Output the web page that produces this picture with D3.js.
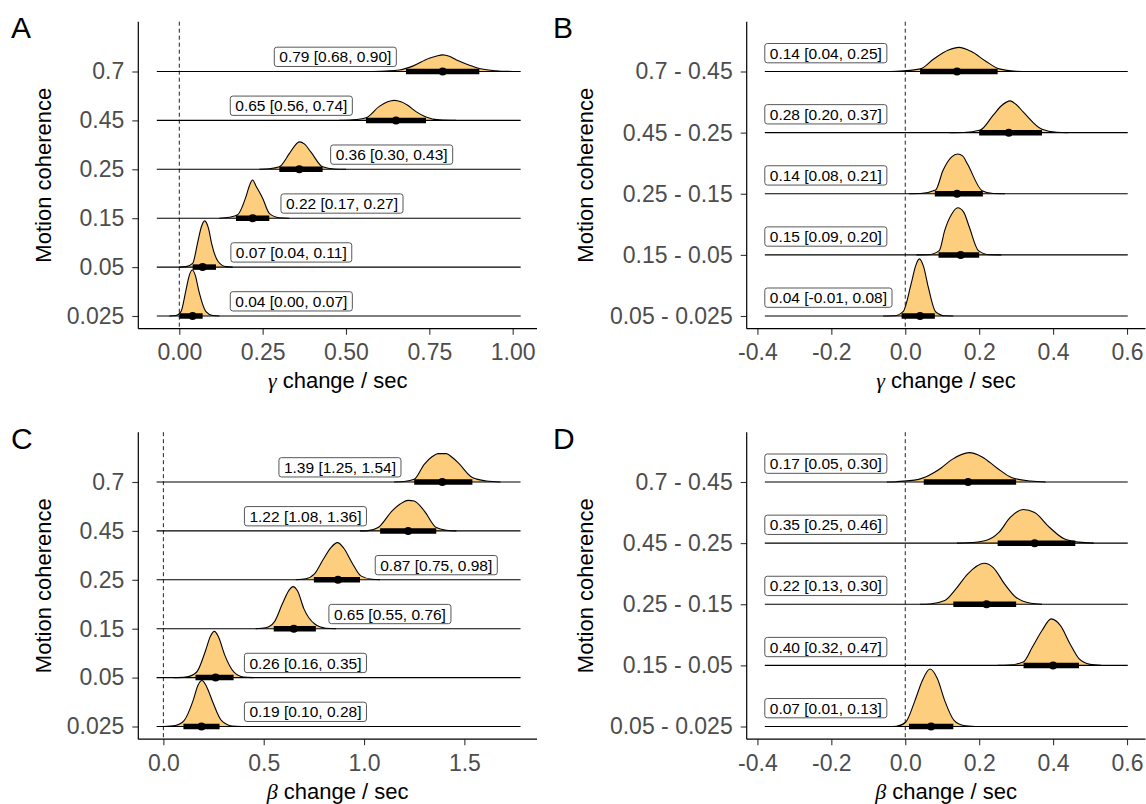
<!DOCTYPE html>
<html><head><meta charset="utf-8">
<script src="https://cdn.jsdelivr.net/npm/d3@7"></script>
<style>body{margin:0;background:#fff} text{font-family:"Liberation Sans",Arial,sans-serif}</style>
</head><body><svg id="c" width="1146" height="804"></svg>
<script>
// ---------- DATA ----------
const coherenceLevels = ["0.025","0.05","0.15","0.25","0.45","0.7"];
const coherenceDiffs  = ["0.05 - 0.025","0.15 - 0.05","0.25 - 0.15","0.45 - 0.25","0.7 - 0.45"];

const ticksA = [0, 0.25, 0.5, 0.75, 1.0];
const ticksB = [-0.4, -0.2, 0, 0.2, 0.4, 0.6];
const ticksC = [0, 0.5, 1.0, 1.5];
const ticksD = [-0.4, -0.2, 0, 0.2, 0.4, 0.6];

// Panel A: gamma change / sec by coherence
const gammaMean  = [0.04, 0.07, 0.22, 0.36, 0.65, 0.79];
const gammaLower = [0.00, 0.04, 0.17, 0.30, 0.56, 0.68];
const gammaUpper = [0.07, 0.11, 0.27, 0.43, 0.74, 0.90];
const gammaLabelX = [0.336, 0.336, 0.488, 0.637, 0.336, 0.468];
const gammaRange = [-0.0675, 1.024];
const gammaDensity = [
  [[-0.03,0],[-0.01,0.01],[0.005,0.09],[0.02,0.53],[0.03,0.83],[0.039,0.94],[0.048,0.83],[0.058,0.53],[0.08,0.09],[0.10,0.01],[0.12,0]],
  [[0.00,0],[0.02,0.01],[0.04,0.075],[0.055,0.50],[0.066,0.82],[0.076,0.945],[0.088,0.78],[0.097,0.48],[0.117,0.11],[0.14,0.01],[0.16,0]],
  [[0.12,0],[0.15,0.02],[0.175,0.07],[0.20,0.44],[0.21,0.66],[0.22,0.78],[0.23,0.66],[0.25,0.41],[0.27,0.10],[0.30,0.01],[0.33,0]],
  [[0.24,0],[0.27,0.01],[0.30,0.05],[0.33,0.32],[0.345,0.47],[0.36,0.56],[0.375,0.52],[0.395,0.35],[0.43,0.05],[0.465,0.005],[0.50,0]],
  [[0.48,0],[0.52,0.01],[0.56,0.054],[0.60,0.286],[0.625,0.38],[0.645,0.41],[0.665,0.38],[0.685,0.31],[0.71,0.18],[0.74,0.07],[0.78,0.01],[0.83,0]],
  [[0.58,0],[0.62,0.01],[0.66,0.03],[0.70,0.11],[0.75,0.27],[0.77,0.31],[0.79,0.34],[0.81,0.31],[0.83,0.24],[0.87,0.13],[0.90,0.06],[0.95,0.016],[1.0,0]]
];

// Panel B: gamma change differences
const gammaDiffMean  = [0.04, 0.15, 0.14, 0.28, 0.14];
const gammaDiffLower = [-0.01, 0.09, 0.08, 0.20, 0.04];
const gammaDiffUpper = [0.08, 0.20, 0.21, 0.37, 0.25];
const gammaDiffLabelX = [-0.38, -0.38, -0.38, -0.38, -0.38];
const gammaDiffRange = [-0.38, 0.602];
const gammaDiffDensity = [
  [[-0.06,0],[-0.029,0.003],[-0.006,0.07],[0.016,0.53],[0.028,0.82],[0.038,0.935],[0.05,0.80],[0.062,0.48],[0.082,0.07],[0.107,0.003],[0.13,0]],
  [[0.03,0],[0.062,0.003],[0.092,0.07],[0.107,0.405],[0.125,0.66],[0.142,0.77],[0.158,0.70],[0.173,0.46],[0.198,0.07],[0.228,0.003],[0.26,0]],
  [[0.01,0],[0.041,0.003],[0.082,0.06],[0.102,0.38],[0.125,0.60],[0.142,0.65],[0.155,0.62],[0.168,0.49],[0.208,0.05],[0.238,0.003],[0.27,0]],
  [[0.12,0],[0.158,0.003],[0.203,0.043],[0.238,0.286],[0.26,0.44],[0.284,0.52],[0.30,0.46],[0.319,0.34],[0.37,0.054],[0.41,0.005],[0.44,0]],
  [[-0.06,0],[-0.024,0.005],[0.041,0.043],[0.077,0.205],[0.117,0.35],[0.145,0.395],[0.178,0.33],[0.218,0.168],[0.254,0.043],[0.30,0.005],[0.34,0]]
];

// Panel C: beta change / sec by coherence
const betaMean  = [0.19, 0.26, 0.65, 0.87, 1.22, 1.39];
const betaLower = [0.10, 0.16, 0.55, 0.75, 1.08, 1.25];
const betaUpper = [0.28, 0.35, 0.76, 0.98, 1.36, 1.54];
const betaLabelX = [0.708, 0.708, 1.129, 1.36, 0.708, 0.88];
const betaRange = [-0.034, 1.78];
const betaDensity = [
  [[0.0,0],[0.059,0.02],[0.103,0.12],[0.148,0.53],[0.172,0.84],[0.192,0.94],[0.215,0.82],[0.246,0.50],[0.29,0.12],[0.343,0.01],[0.39,0]],
  [[0.05,0],[0.11,0.01],[0.165,0.11],[0.21,0.55],[0.235,0.85],[0.254,0.945],[0.275,0.83],[0.304,0.48],[0.352,0.11],[0.40,0.01],[0.45,0]],
  [[0.46,0],[0.51,0.02],[0.553,0.14],[0.593,0.51],[0.625,0.78],[0.646,0.86],[0.67,0.76],[0.70,0.41],[0.753,0.10],[0.81,0.01],[0.86,0]],
  [[0.66,0],[0.71,0.02],[0.753,0.12],[0.797,0.42],[0.835,0.66],[0.868,0.76],[0.90,0.64],[0.94,0.35],[0.984,0.08],[1.04,0.01],[1.08,0]],
  [[0.98,0],[1.02,0.005],[1.07,0.068],[1.14,0.41],[1.18,0.55],[1.22,0.625],[1.25,0.61],[1.30,0.41],[1.36,0.068],[1.41,0.014],[1.46,0]],
  [[1.15,0],[1.20,0.01],[1.25,0.054],[1.30,0.36],[1.34,0.52],[1.37,0.58],[1.41,0.58],[1.44,0.50],[1.47,0.39],[1.54,0.09],[1.61,0.02],[1.68,0]]
];

// Panel D: beta change differences
const betaDiffMean  = [0.07, 0.40, 0.22, 0.35, 0.17];
const betaDiffLower = [0.01, 0.32, 0.13, 0.25, 0.05];
const betaDiffUpper = [0.13, 0.47, 0.30, 0.46, 0.30];
const betaDiffLabelX = [-0.38, -0.38, -0.38, -0.38, -0.38];
const betaDiffRange = [-0.38, 0.602];
const betaDiffDensity = [
  [[-0.05,0],[-0.024,0.005],[0.001,0.07],[0.026,0.42],[0.046,0.75],[0.067,0.94],[0.087,0.78],[0.107,0.42],[0.132,0.10],[0.158,0.016],[0.19,0]],
  [[0.25,0],[0.279,0.005],[0.319,0.054],[0.344,0.30],[0.37,0.57],[0.395,0.76],[0.42,0.65],[0.446,0.35],[0.47,0.11],[0.50,0.016],[0.53,0]],
  [[0.04,0],[0.067,0.005],[0.107,0.06],[0.137,0.25],[0.168,0.49],[0.213,0.67],[0.238,0.60],[0.269,0.33],[0.30,0.11],[0.34,0.016],[0.37,0]],
  [[0.14,0],[0.168,0.005],[0.218,0.043],[0.254,0.18],[0.284,0.42],[0.319,0.55],[0.35,0.50],[0.39,0.26],[0.43,0.07],[0.47,0.016],[0.51,0]],
  [[-0.05,0],[-0.024,0.005],[0.036,0.043],[0.077,0.15],[0.097,0.23],[0.127,0.37],[0.173,0.48],[0.208,0.41],[0.248,0.23],[0.289,0.07],[0.34,0.016],[0.38,0]]
];

// ---------- LAYOUT / STYLE ----------
const svg = d3.select("#c");
const FILL = "#FECE7F";
const colX = [[138.3, 537], [746.7, 1145.5]];
const rowOff = [0, 410.5];
const PLOT_TOP = 21.7, PLOT_BOTTOM = 328.7, TOP_ROW = 71.5, BOTTOM_ROW = 316;
const LABEL_NUDGE = 0.3;

function fmt2(v){ return v.toFixed(2); }

function drawPanel(p) {
  const [left, right] = colX[p.col];
  const off = rowOff[p.row];
  const g = svg.append("g");
  const x = d3.scaleLinear().domain(p.xDomain).range([left, right]);
  const y = d3.scalePoint().domain(p.categories).range([BOTTOM_ROW + off, TOP_ROW + off]);
  const step = y.step();
  const top = PLOT_TOP + off, bottom = PLOT_BOTTOM + off;

  // reference line at 0
  g.append("line").attr("x1", x(0)).attr("x2", x(0)).attr("y1", top).attr("y2", bottom)
    .attr("stroke", "#222").attr("stroke-width", 1).attr("stroke-dasharray", "4,3");

  // ridges (top row first so lower rows are drawn in front)
  const order = d3.range(p.categories.length).reverse();
  order.forEach(i => {
    const base = y(p.categories[i]);
    const area = d3.area().curve(d3.curveMonotoneX)
      .x(d => x(d[0])).y0(base).y1(d => base - d[1] * step);
    const line = d3.line().curve(d3.curveMonotoneX)
      .x(d => x(d[0])).y(d => base - d[1] * step);
    g.append("path").attr("d", area(p.density[i])).attr("fill", FILL);
    g.append("line").attr("x1", x(p.range[0])).attr("x2", x(p.range[1]))
      .attr("y1", base).attr("y2", base).attr("stroke", "#000").attr("stroke-width", 1.1);
    g.append("path").attr("d", line(p.density[i])).attr("fill", "none")
      .attr("stroke", "#000").attr("stroke-width", 1.1);
  });

  // intervals and points
  p.categories.forEach((c, i) => {
    const base = y(c);
    g.append("line").attr("x1", x(p.lower[i])).attr("x2", x(p.upper[i]))
      .attr("y1", base).attr("y2", base).attr("stroke", "#000").attr("stroke-width", 5.5);
    g.append("circle").attr("cx", x(p.mean[i])).attr("cy", base).attr("r", 4).attr("fill", "#000");
  });

  // labels
  p.categories.forEach((c, i) => {
    const cy = y(c) - LABEL_NUDGE * step;
    const txt = `${fmt2(p.mean[i])} [${fmt2(p.lower[i])}, ${fmt2(p.upper[i])}]`;
    const lg = g.append("g");
    const rect = lg.append("rect");
    const t = lg.append("text").text(txt).attr("font-size", 15.5).attr("fill", "#000")
      .attr("y", cy).attr("dy", "0.36em");
    const w = t.node().getComputedTextLength();
    const pad = 5, bw = w + 2 * pad, bh = 19.3;
    let bx = p.labelAlign === "left" ? x(p.labelX[i]) : x(p.labelX[i]) - bw / 2;
    t.attr("x", bx + pad);
    rect.attr("x", bx).attr("y", cy - bh / 2).attr("width", bw).attr("height", bh)
      .attr("rx", 2.5).attr("fill", "#fff").attr("stroke", "#444").attr("stroke-width", 0.9);
  });

  // axes
  const xa = g.append("g").attr("transform", `translate(0,${bottom})`)
    .call(d3.axisBottom(x).tickValues(p.ticks).tickFormat(p.tickFmt).tickSize(6).tickSizeOuter(0).tickPadding(9));
  const ya = g.append("g").attr("transform", `translate(${left},0)`)
    .call(d3.axisLeft(y).tickSize(6).tickPadding(8));
  [xa, ya].forEach(a => {
    a.select(".domain").remove();
    a.selectAll(".tick line").attr("stroke", "#333").attr("stroke-width", 1.1);
    a.selectAll(".tick text").attr("fill", "#4D4D4D").attr("font-size", 23)
      .attr("font-family", '"Liberation Sans",Arial,sans-serif');
  });
  g.append("line").attr("x1", left).attr("x2", right).attr("y1", bottom).attr("y2", bottom)
    .attr("stroke", "#000").attr("stroke-width", 1.2);
  g.append("line").attr("x1", left).attr("x2", left).attr("y1", top).attr("y2", bottom)
    .attr("stroke", "#000").attr("stroke-width", 1.2);

  // axis titles
  const xt = g.append("text").attr("x", (left + right) / 2).attr("y", 388 + off)
    .attr("text-anchor", "middle").attr("font-size", 22).attr("fill", "#000");
  xt.append("tspan").attr("font-family", '"Liberation Serif","DejaVu Serif",serif')
    .attr("font-style", "italic").text(p.symbol);
  xt.append("tspan").text(" change / sec");
  g.append("text").attr("transform", `translate(${p.col === 0 ? 43 : 585},${(top + bottom) / 2}) rotate(-90)`)
    .attr("text-anchor", "middle").attr("dy", "0.35em").attr("font-size", 22).attr("fill", "#000")
    .text("Motion coherence");

  // panel letter
  g.append("text").attr("x", p.col === 0 ? 11 : 553).attr("y", 38 + off)
    .attr("font-size", 30).attr("fill", "#000").text(p.letter);
}

const fmtA = d => d.toFixed(2);
const fmt1 = d => d.toFixed(1);

drawPanel({letter: "A", col: 0, row: 0, categories: coherenceLevels, xDomain: [-0.123, 1.073],
  ticks: ticksA, tickFmt: fmtA, mean: gammaMean, lower: gammaLower, upper: gammaUpper,
  density: gammaDensity, range: gammaRange, labelX: gammaLabelX, labelAlign: "center", symbol: "γ"});
drawPanel({letter: "B", col: 1, row: 0, categories: coherenceDiffs, xDomain: [-0.429, 0.650],
  ticks: ticksB, tickFmt: fmt1, mean: gammaDiffMean, lower: gammaDiffLower, upper: gammaDiffUpper,
  density: gammaDiffDensity, range: gammaDiffRange, labelX: gammaDiffLabelX, labelAlign: "left", symbol: "γ"});
drawPanel({letter: "C", col: 0, row: 1, categories: coherenceLevels, xDomain: [-0.125, 1.862],
  ticks: ticksC, tickFmt: fmt1, mean: betaMean, lower: betaLower, upper: betaUpper,
  density: betaDensity, range: betaRange, labelX: betaLabelX, labelAlign: "center", symbol: "β"});
drawPanel({letter: "D", col: 1, row: 1, categories: coherenceDiffs, xDomain: [-0.429, 0.650],
  ticks: ticksD, tickFmt: fmt1, mean: betaDiffMean, lower: betaDiffLower, upper: betaDiffUpper,
  density: betaDiffDensity, range: betaDiffRange, labelX: betaDiffLabelX, labelAlign: "left", symbol: "β"});
</script></body></html>
